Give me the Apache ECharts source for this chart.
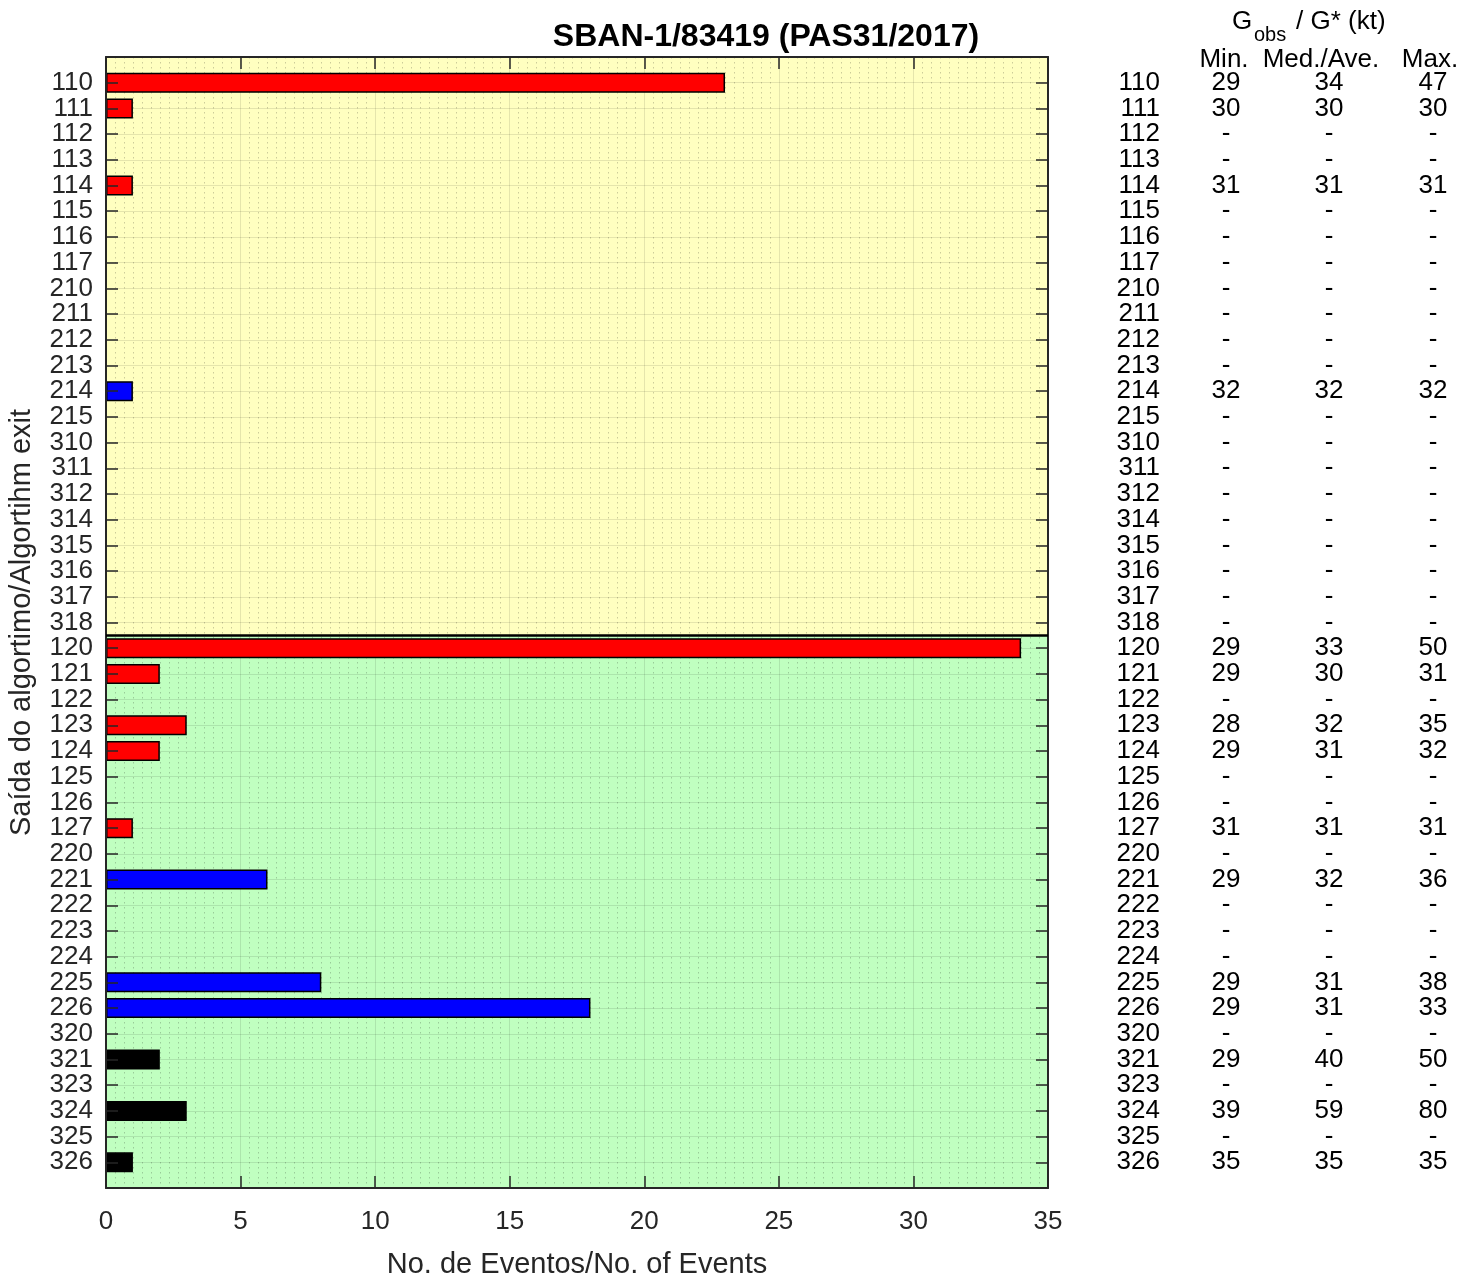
<!DOCTYPE html>
<html>
<head>
<meta charset="utf-8">
<script src="https://cdn.jsdelivr.net/npm/echarts@6/dist/echarts.min.js"></script>
<style>html,body{margin:0;padding:0;background:#fff;}#c{width:1479px;height:1280px;}</style>
</head>
<body>
<div id="c"></div>
<script>
// ---- data ----
const codes = ['110','111','112','113','114','115','116','117','210','211','212','213','214','215','310','311','312','314','315','316','317','318',
               '120','121','122','123','124','125','126','127','220','221','222','223','224','225','226','320','321','323','324','325','326'];
const counts = [23,1,0,0,1,0,0,0,0,0,0,0,1,0,0,0,0,0,0,0,0,0,
                34,2,0,3,2,0,0,1,0,6,0,0,0,8,18,0,2,0,3,0,1];
const minV = ['29','30','-','-','31','-','-','-','-','-','-','-','32','-','-','-','-','-','-','-','-','-',
              '29','29','-','28','29','-','-','31','-','29','-','-','-','29','29','-','29','-','39','-','35'];
const medV = ['34','30','-','-','31','-','-','-','-','-','-','-','32','-','-','-','-','-','-','-','-','-',
              '33','30','-','32','31','-','-','31','-','32','-','-','-','31','31','-','40','-','59','-','35'];
const maxV = ['47','30','-','-','31','-','-','-','-','-','-','-','32','-','-','-','-','-','-','-','-','-',
              '50','31','-','35','32','-','-','31','-','36','-','-','-','38','33','-','50','-','80','-','35'];
const xTicks = [0,5,10,15,20,25,30,35];
const groupColors = {'1':'#FF0000','2':'#0000FF','3':'#000000'};
const splitIndex = 21.5; // boundary between '318' and '120'

// ---- build ----
const axisCats = ['', ...codes, ' '];
const N = codes.length;
const FONT = 'Liberation Sans, Arial, Helvetica, sans-serif';
const AX = '#262626';
const LBL = 26;
const PAD = [9, 0, 0, 0];

function colFormatter(arr){ return (v, i) => (i > 0 && i <= N) ? arr[i-1] : ''; }

const barSeries = Object.keys(groupColors).map(g => ({
  type: 'bar',
  xAxisIndex: 0, yAxisIndex: 0,
  barWidth: 20,
  barGap: '-100%',
  z: 2,
  itemStyle: { color: groupColors[g], borderColor: '#000', borderWidth: 1.5 },
  data: [null, ...codes.map((c, i) => (c[0] === g && counts[i] > 0) ? counts[i] : null), null]
}));

const tableAxis = (arr, margin) => ({
  type: 'category', data: axisCats, inverse: true, boundaryGap: false, position: 'right',
  axisLine: { show: false, onZero: false }, axisTick: { show: false }, splitLine: { show: false },
  axisLabel: { interval: 0, formatter: colFormatter(arr), align: 'center', margin: margin,
               fontSize: LBL, color: '#000', fontFamily: FONT, padding: PAD }
});

const option = {
  animation: false,
  backgroundColor: '#fff',
  textStyle: { fontFamily: FONT },
  grid: { left: 106, top: 57, width: 942, height: 1131, containLabel: false, outerBoundsMode: 'none' },
  xAxis: [
    { type: 'value', position: 'bottom', min: xTicks[0], max: xTicks[xTicks.length-1], interval: 5, z: 0,
      axisLine: { show: true, onZero: false, lineStyle: { color: AX, width: 2 } },
      axisTick: { show: true, inside: true, length: 12, lineStyle: { color: AX, width: 1.5 } },
      axisLabel: { fontSize: LBL, color: AX, margin: 21, fontFamily: FONT },
      splitLine: { show: true, lineStyle: { color: 'rgba(0,0,0,0.10)', width: 1 } },
      minorTick: { show: false, splitNumber: 15 },
      minorSplitLine: { show: true, lineStyle: { color: 'rgba(0,0,0,0.20)', width: 1, type: [1.5, 3.5] } },
      name: 'No. de Eventos/No. of Events', nameLocation: 'middle', nameGap: 62,
      nameTextStyle: { fontSize: 29, color: AX, fontFamily: FONT } },
    { type: 'value', position: 'top', min: xTicks[0], max: xTicks[xTicks.length-1], interval: 5, z: 3,
      axisLine: { show: true, onZero: false, lineStyle: { color: AX, width: 2 } },
      axisTick: { show: true, inside: true, length: 12, lineStyle: { color: AX, width: 1.5 } },
      axisLabel: { show: false }, splitLine: { show: false } }
  ],
  yAxis: [
    { type: 'category', data: axisCats, inverse: true, boundaryGap: false, position: 'left', z: 3,
      axisLine: { show: true, onZero: false, lineStyle: { color: AX, width: 2 } },
      axisTick: { show: true, inside: true, length: 12, interval: 0, lineStyle: { color: AX, width: 1.5 } },
      axisLabel: { interval: 0, fontSize: LBL, color: AX, margin: 13, fontFamily: FONT, formatter: v => v.trim(), padding: PAD },
      splitLine: { show: false },
      name: 'Saída do algortimo/Algortihm exit', nameLocation: 'middle', nameRotate: 90, nameGap: 70,
      nameTextStyle: { fontSize: 29, color: AX, fontFamily: FONT } },
    { type: 'category', data: axisCats, inverse: true, boundaryGap: false, position: 'right', z: 0,
      axisLine: { show: true, onZero: false, lineStyle: { color: AX, width: 2 } },
      axisTick: { show: true, inside: true, length: 12, interval: 0, lineStyle: { color: AX, width: 1.5 } },
      axisLabel: { interval: 0, fontSize: LBL, color: '#000', margin: 112, align: 'right', fontFamily: FONT, formatter: v => v.trim(), padding: PAD },
      splitLine: { show: true, interval: 0, lineStyle: { color: 'rgba(0,0,0,0.10)', width: 1 } } },
    tableAxis(minV, 178),
    tableAxis(medV, 281),
    tableAxis(maxV, 385),
    { type: 'value', min: -1, max: N, inverse: true, show: false, axisLine: { onZero: false } }
  ],
  series: [
    { type: 'line', xAxisIndex: 0, yAxisIndex: 5, data: [[0, -1]], symbol: 'none', silent: true, z: 1,
      lineStyle: { opacity: 0 },
      markArea: { silent: true, z: -1, data: [
        [{ yAxis: -1, itemStyle: { color: '#FFFFC0' } }, { yAxis: splitIndex }],
        [{ yAxis: splitIndex, itemStyle: { color: '#C0FFC0' } }, { yAxis: N }]
      ] },
      markLine: { silent: true, symbol: 'none', label: { show: false }, z: 4,
        lineStyle: { color: '#000', width: 2.5, type: 'solid' },
        data: [{ yAxis: splitIndex }] } },
    ...barSeries
  ],
  graphic: [
    { type: 'text', x: 766, y: 37, style: { text: 'SBAN-1/83419 (PAS31/2017)', fontSize: 32, fontWeight: 'bold', fill: '#000', fontFamily: FONT, textAlign: 'center', textVerticalAlign: 'middle' } },
    { type: 'text', x: 1232, y: 22, style: { text: 'G', fontSize: LBL, fill: '#000', fontFamily: FONT, textAlign: 'left', textVerticalAlign: 'middle' } },
    { type: 'text', x: 1254, y: 35, style: { text: 'obs', fontSize: 20, fill: '#000', fontFamily: FONT, textAlign: 'left', textVerticalAlign: 'middle' } },
    { type: 'text', x: 1296, y: 22, style: { text: '/ G* (kt)', fontSize: LBL, fill: '#000', fontFamily: FONT, textAlign: 'left', textVerticalAlign: 'middle' } },
    { type: 'text', x: 1224, y: 60, style: { text: 'Min.', fontSize: LBL, fill: '#000', fontFamily: FONT, textAlign: 'center', textVerticalAlign: 'middle' } },
    { type: 'text', x: 1321, y: 60, style: { text: 'Med./Ave.', fontSize: LBL, fill: '#000', fontFamily: FONT, textAlign: 'center', textVerticalAlign: 'middle' } },
    { type: 'text', x: 1430, y: 60, style: { text: 'Max.', fontSize: LBL, fill: '#000', fontFamily: FONT, textAlign: 'center', textVerticalAlign: 'middle' } }
  ]
};

const chart = echarts.init(document.getElementById('c'), null, { renderer: 'canvas' });
chart.setOption(option);
</script>
</body>
</html>
